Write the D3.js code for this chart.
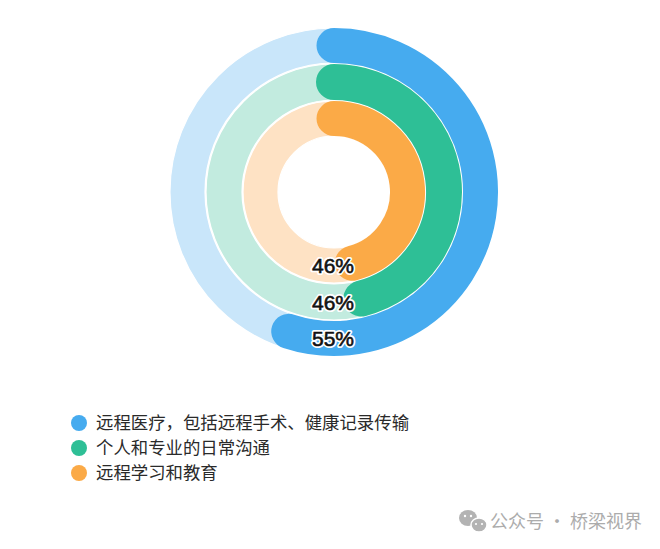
<!DOCTYPE html>
<html><head><meta charset="utf-8">
<script src="https://cdn.jsdelivr.net/npm/d3@7"></script>
<style>html,body{margin:0;padding:0;background:#fff;}</style>
</head><body>
<svg id="c" width="660" height="549"></svg>
<script>
const categories = ["远程医疗，包括远程手术、健康记录传输", "个人和专业的日常沟通", "远程学习和教育"];
const values = [55, 46, 46];
const labels = ["55%", "46%", "46%"];
const colors = ["#46abef", "#2ebf96", "#fbaa47"];
const lightColors = ["#c9e6fa", "#c2ebdf", "#fee2c4"];
const watermark = "公众号 · 桥梁视界";

const svg = d3.select("#c");
const cx = 334, cy = 192;
const rings = [[129, 164], [92, 128], [56, 91]];
const angle = d3.scaleLinear().domain([0, 100]).range([0, 2 * Math.PI]);

const g = svg.append("g").attr("transform", `translate(${cx},${cy})`);

// backgrounds
g.selectAll("path.bg").data(values).join("path")
  .attr("class", "bg")
  .attr("d", (d, i) => d3.arc().innerRadius(rings[i][0]).outerRadius(rings[i][1]).startAngle(0).endAngle(2 * Math.PI)())
  .attr("fill", (d, i) => lightColors[i])
  .attr("stroke", "#fff").attr("stroke-width", 1.2);

// value arcs with round caps (stroke based)
g.selectAll("path.val").data(values).join("path")
  .attr("class", "val")
  .attr("d", (d, i) => {
    const r = (rings[i][0] + rings[i][1]) / 2;
    const p = d3.path();
    const a0 = -Math.PI / 2, a1 = angle(d) - Math.PI / 2;
    p.arc(0, 0, r, a0, a1, false);
    return p.toString();
  })
  .attr("fill", "none")
  .attr("stroke", (d, i) => colors[i])
  .attr("stroke-width", (d, i) => rings[i][1] - rings[i][0])
  .attr("stroke-linecap", "round");

// labels (white halo, then slightly thickened black text)
const lblY = (d, i) => (rings[i][0] + rings[i][1]) / 2;
g.selectAll("text.halo").data(labels).join("text")
  .attr("class", "halo")
  .attr("x", -1).attr("y", lblY).attr("dy", "0.36em")
  .attr("text-anchor", "middle")
  .attr("font-family", "Liberation Sans, Arial, sans-serif")
  .attr("font-size", 21)
  .attr("fill", "#fff")
  .attr("stroke", "#fff").attr("stroke-width", 4).attr("stroke-linejoin", "round")
  .text(d => d);
g.selectAll("text.lbl").data(labels).join("text")
  .attr("class", "lbl")
  .attr("x", -1).attr("y", lblY).attr("dy", "0.36em")
  .attr("text-anchor", "middle")
  .attr("font-family", "Liberation Sans, Arial, sans-serif")
  .attr("font-size", 21)
  .attr("fill", "#111")
  .attr("stroke", "#111").attr("stroke-width", 0.6).attr("stroke-linejoin", "round")
  .text(d => d);

// legend
const leg = svg.append("g").attr("transform", "translate(79,423)");
const items = leg.selectAll("g").data(categories).join("g")
  .attr("transform", (d, i) => `translate(0,${i * 25})`);
items.append("circle").attr("r", 8).attr("fill", (d, i) => colors[i]);
items.append("text").attr("x", 17).attr("dy", "0.36em")
  .attr("font-family", "Noto Sans CJK SC, sans-serif")
  .attr("font-size", 17.4).attr("fill", "#2a2a2a")
  .text(d => d);

// watermark
const wm = svg.append("g");
wm.append("ellipse").attr("cx", 468).attr("cy", 518).attr("rx", 9).attr("ry", 8).attr("fill", "#b3b3b3");
wm.append("ellipse").attr("cx", 479).attr("cy", 525).attr("rx", 8).attr("ry", 7).attr("fill", "#b3b3b3").attr("stroke", "#fff").attr("stroke-width", 1.5);
[[465,516],[471,516]].forEach(p => wm.append("circle").attr("cx", p[0]).attr("cy", p[1]).attr("r", 1.2).attr("fill", "#fff"));
[[476,524],[482,524]].forEach(p => wm.append("circle").attr("cx", p[0]).attr("cy", p[1]).attr("r", 1.1).attr("fill", "#fff"));
wm.append("text").attr("x", 490).attr("y", 522).attr("dy", "0.36em")
  .attr("font-family", "Noto Sans CJK SC, sans-serif")
  .attr("font-size", 18).attr("fill", "#acacac")
  .text(watermark);
</script>
</body></html>
